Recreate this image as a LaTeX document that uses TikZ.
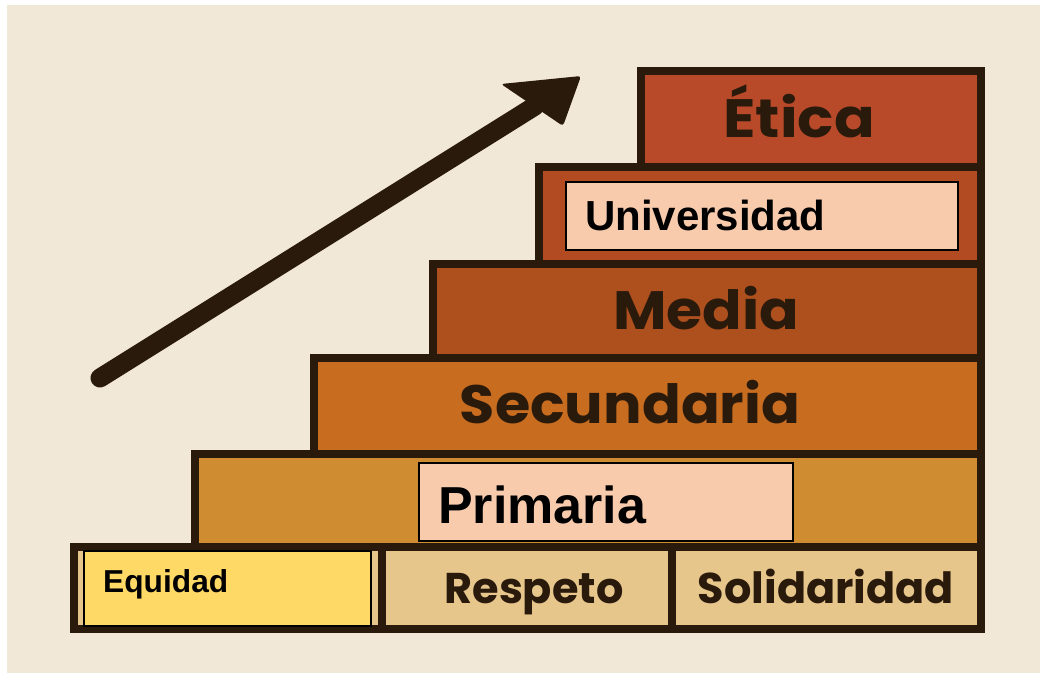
\documentclass[tikz,border=0pt]{standalone}
\usepackage{fontspec}
\setmainfont{Liberation Sans}
\newfontfamily\stepfont{Poppins}
\usetikzlibrary{arrows.meta}
\definecolor{bg}{HTML}{F2E8D7}
\definecolor{ink}{HTML}{2A1A0C}
\definecolor{cEtica}{HTML}{B84A2A}
\definecolor{cUni}{HTML}{B24B22}
\definecolor{cMedia}{HTML}{AE4F1E}
\definecolor{cSec}{HTML}{C86C20}
\definecolor{cPrim}{HTML}{D08C30}
\definecolor{cBase}{HTML}{E7C68C}
\definecolor{cYellow}{HTML}{FFD966}
\definecolor{cPink}{HTML}{F8CBAD}
\begin{document}
\begin{tikzpicture}[x=1pt,y=-1pt,
  stepbox/.style={draw=ink, line width=8.5pt, anchor=north west, inner sep=0pt, outer sep=0pt},
  steplabel/.style={font=\stepfont\bfseries\fontsize{54}{54}\selectfont, text=ink, inner sep=0pt, anchor=base},
  smalllabel/.style={steplabel, font=\stepfont\bfseries\fontsize{43}{43}\selectfont},
  ovbox/.style={draw=black, line width=1.3pt, fill=cPink, anchor=north west, inner sep=0pt, outer sep=0pt},
  ovlabel/.style={text=black, inner sep=0pt, anchor=base west}]
% background
\fill[white] (0,0) rectangle (1040,673);
\fill[bg] (7,5) rectangle (1040,673);
\useasboundingbox (0,0) rectangle (1040,673);
% steps
\node[stepbox, fill=cEtica, minimum width=340pt, minimum height=96pt] (sEtica) at (641,71) {};
\node[stepbox, fill=cUni, minimum width=442pt, minimum height=97pt] (sUni) at (539,167) {};
\node[stepbox, fill=cMedia, minimum width=548pt, minimum height=94pt] (sMedia) at (433,264) {};
\node[stepbox, fill=cSec, minimum width=667pt, minimum height=96pt] (sSec) at (314,358) {};
\node[stepbox, fill=cPrim, minimum width=786pt, minimum height=93pt] (sPrim) at (195,454) {};
\node[stepbox, fill=cBase, minimum width=308pt, minimum height=82pt] (cEq) at (74,547) {};
\node[stepbox, fill=cBase, minimum width=290pt, minimum height=82pt] (cResp) at (382,547) {};
\node[stepbox, fill=cBase, minimum width=309pt, minimum height=82pt] (cSol) at (672,547) {};
% overlays
\node[ovbox, fill=cYellow, minimum width=287pt, minimum height=75pt] (oEq) at (84,551) {};
\node[ovbox, minimum width=374pt, minimum height=78pt] (oPrim) at (419,463) {};
\node[ovbox, minimum width=392pt, minimum height=68pt] (oUni) at (566,182) {};
% labels
\node[steplabel] (tEtica) at (799,137) {\scalebox{1.11}[1]{Ética}};
\node[steplabel] (tMedia) at (706,329) {\scalebox{1.08}[1]{Media}};
\node[steplabel] (tSec) at (630,423) {\scalebox{1.06}[1]{Secundaria}};
\node[smalllabel] (tResp) at (534,603) {Respeto};
\node[smalllabel] (tSol) at (826,603) {Solidaridad};
\node[ovlabel, font=\bfseries\fontsize{52}{52}\selectfont] (tPrim) at (438,523) {Primaria};
\node[ovlabel, font=\bfseries\fontsize{42}{42}\selectfont] (tUni) at (585,230) {Universidad};
\node[ovlabel, font=\bfseries\fontsize{31.7}{32}\selectfont] (tEq) at (103,592) {Equidad};
% arrow
\coordinate (tail) at (100,378);
\coordinate (headbase) at (535,106);
\coordinate (tip) at (581,76);
\coordinate (wingA) at (501,84);
\coordinate (wingB) at (563,126);
\draw[ink, line width=19pt, line cap=round] (tail) -- (headbase);
\fill[ink, rounded corners=3pt] (tip) -- (wingA) -- (wingB) -- cycle;
\end{tikzpicture}
\end{document}
